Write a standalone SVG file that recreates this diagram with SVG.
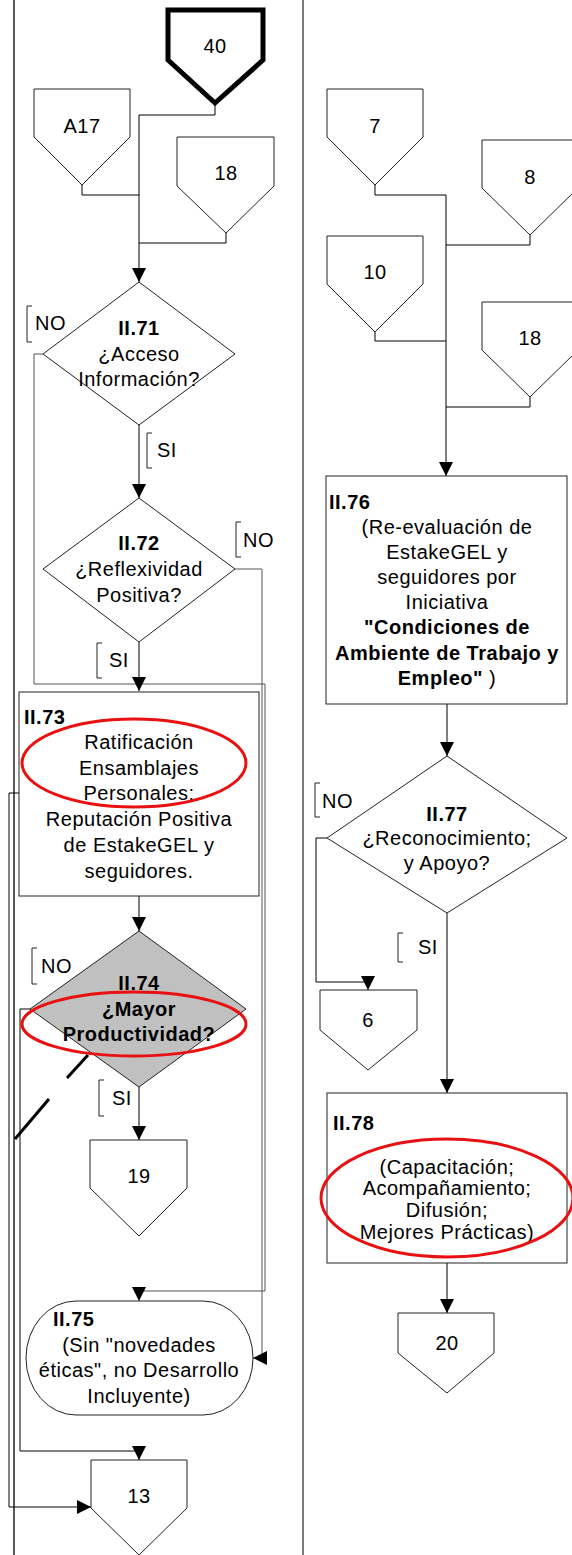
<svg xmlns="http://www.w3.org/2000/svg" width="572" height="1555" viewBox="0 0 572 1555">
<style>
.t{font-family:"Liberation Sans",Arial,sans-serif;font-size:20px;fill:#000;letter-spacing:0.5px}
.c{text-anchor:middle}
.b{font-weight:bold}
.sh{fill:#fff;stroke:#222;stroke-width:1}
.gr{fill:#c0c0c0;stroke:#222;stroke-width:1}
.ln{fill:none;stroke:#000;stroke-width:1}
.lg{fill:none;stroke:#555;stroke-width:1}
.red{fill:none;stroke:#e81010;stroke-width:3}
.br{fill:none;stroke:#222;stroke-width:1}
</style>
<defs>
<marker id="ah" viewBox="0 0 14 14" refX="14" refY="7" markerWidth="14" markerHeight="14" markerUnits="userSpaceOnUse" orient="auto">
<path d="M0,0 L14,7 L0,14 z" fill="#000"/>
</marker>
</defs>
<rect x="0" y="0" width="572" height="1555" fill="#fff"/>
<g id="lanes">
<line x1="14" y1="0" x2="14" y2="1555" stroke="#222" stroke-width="1.5"/>
<line x1="303" y1="0" x2="303" y2="1555" stroke="#222" stroke-width="1.2"/>
</g>
<g id="connectors">
<path class="ln" d="M215,105 V115 H139 V282" marker-end="url(#ah)"/>
<path class="ln" d="M82,185 V195 H139"/>
<path class="ln" d="M226,233 V243 H139"/>
<path class="ln" d="M139,425 V498" marker-end="url(#ah)"/>
<path class="lg" d="M43,354 H34 V684 H265 V1291 H139 V1301" marker-end="url(#ah)"/>
<path class="ln" d="M139,642 V691" marker-end="url(#ah)"/>
<path class="lg" d="M235,569 H262 V1358 H253" marker-end="url(#ah)"/>
<path class="ln" d="M139,896 V931" marker-end="url(#ah)"/>
<path class="ln" d="M19,793 H9 V1507 H91" marker-end="url(#ah)"/>
<path class="ln" d="M139,1087 V1140" marker-end="url(#ah)"/>
<path class="ln" d="M30,1009 H20 V1451 H139 V1460" marker-end="url(#ah)"/>
<line x1="88" y1="1055" x2="67" y2="1078" stroke="#000" stroke-width="3"/>
<line x1="49" y1="1099" x2="15" y2="1139" stroke="#000" stroke-width="3"/>
<path class="ln" d="M375,185 V195 H446 V476" marker-end="url(#ah)"/>
<path class="ln" d="M530,235 V245 H446"/>
<path class="ln" d="M375,332 V341 H446"/>
<path class="ln" d="M530,397 V407 H446"/>
<path class="ln" d="M447,704 V756" marker-end="url(#ah)"/>
<path class="ln" d="M327,838 H316 V982 H368 V990" marker-end="url(#ah)"/>
<path class="ln" d="M447,913 V1093" marker-end="url(#ah)"/>
<path class="ln" d="M447,1263 V1313" marker-end="url(#ah)"/>
</g>
<g id="labels">
<path class="br" d="M32,306 H27 V342 H32"/><text class="t" x="35" y="330">NO</text>
<path class="br" d="M152,433 H147 V468 H152"/><text class="t" x="157" y="457">SI</text>
<path class="br" d="M241,522 H236 V557 H241"/><text class="t" x="243" y="547">NO</text>
<path class="br" d="M102,643 H97 V678 H102"/><text class="t" x="109" y="667">SI</text>
<path class="br" d="M37,948 H32 V984 H37"/><text class="t" x="41" y="973">NO</text>
<path class="br" d="M104,1080 H99 V1116 H104"/><text class="t" x="112" y="1105">SI</text>
<path class="br" d="M320,783 H315 V817 H320"/><text class="t" x="322" y="808">NO</text>
<path class="br" d="M403,933 H398 V962 H403"/><text class="t" x="418" y="954">SI</text>
</g>
<g id="n40">
<polygon points="168,10 263,10 263,60 215,103 168,60" fill="#fff" stroke="#000" stroke-width="5"/>
<text class="t c" x="215" y="53">40</text>
</g>
<g id="nA17">
<polygon class="sh" points="34,89 130,89 130,137 82,185 34,137"/>
<text class="t c" x="82" y="133">A17</text>
</g>
<g id="n18a">
<polygon class="sh" points="177,137 274,137 274,186 226,233 177,186"/>
<text class="t c" x="226" y="180">18</text>
</g>
<g id="n71">
<polygon class="sh" points="139,282 235,354 139,425 43,354"/>
<text class="t c b" x="139" y="335">II.71</text>
<text class="t c" x="139" y="361">¿Acceso</text>
<text class="t c" x="139" y="386">Información?</text>
</g>
<g id="n72">
<polygon class="sh" points="139,498 235,569 139,642 43,569"/>
<text class="t c b" x="139" y="550">II.72</text>
<text class="t c" x="139" y="576">¿Reflexividad</text>
<text class="t c" x="139" y="602">Positiva?</text>
</g>
<g id="n73">
<rect class="sh" x="19" y="692" width="240" height="204"/>
<text class="t b" x="24" y="724">II.73</text>
<text class="t c" x="139" y="749">Ratificación</text>
<text class="t c" x="139" y="775">Ensamblajes</text>
<text class="t c" x="139" y="800">Personales:</text>
<text class="t c" x="139" y="826">Reputación Positiva</text>
<text class="t c" x="139" y="852">de EstakeGEL y</text>
<text class="t c" x="139" y="878">seguidores.</text>
<ellipse class="red" cx="134" cy="763" rx="112" ry="44"/>
</g>
<g id="n74">
<polygon class="gr" points="139,931 246,1009 139,1087 30,1009"/>
<text class="t c b" x="139" y="990">II.74</text>
<text class="t c b" x="139" y="1016">¿Mayor</text>
<text class="t c b" x="139" y="1041">Productividad?</text>
<ellipse class="red" cx="134" cy="1024" rx="112" ry="32"/>
</g>
<g id="n19">
<polygon class="sh" points="90,1140 187,1140 187,1188 139,1236 90,1188"/>
<text class="t c" x="139" y="1183">19</text>
</g>
<g id="n75">
<rect class="sh" x="26" y="1301" width="227" height="114" rx="50" ry="57"/>
<text class="t b" x="53" y="1326">II.75</text>
<text class="t c" x="139" y="1352">(Sin "novedades</text>
<text class="t c" x="139" y="1377">éticas", no Desarrollo</text>
<text class="t c" x="139" y="1403">Incluyente)</text>
</g>
<g id="n13">
<polygon class="sh" points="91,1460 187,1460 187,1508 139,1555 91,1508"/>
<text class="t c" x="139" y="1503">13</text>
</g>
<g id="n7">
<polygon class="sh" points="327,89 423,89 423,137 375,185 327,137"/>
<text class="t c" x="375" y="133">7</text>
</g>
<g id="n8">
<polygon class="sh" points="482,140 578,140 578,188 530,235 482,188"/>
<text class="t c" x="530" y="184">8</text>
</g>
<g id="n10">
<polygon class="sh" points="327,236 423,236 423,284 375,332 327,284"/>
<text class="t c" x="375" y="279">10</text>
</g>
<g id="n18b">
<polygon class="sh" points="482,302 578,302 578,350 530,397 482,350"/>
<text class="t c" x="530" y="345">18</text>
</g>
<g id="n76">
<rect class="sh" x="326" y="476" width="241" height="228"/>
<text class="t b" x="329" y="509">II.76</text>
<text class="t c" x="447" y="534">(Re-evaluación de</text>
<text class="t c" x="447" y="559">EstakeGEL y</text>
<text class="t c" x="447" y="584">seguidores por</text>
<text class="t c" x="447" y="609">Iniciativa</text>
<text class="t c b" x="447" y="634">"Condiciones de</text>
<text class="t c b" x="447" y="660">Ambiente de Trabajo y</text>
<text class="t c" x="447" y="685"><tspan class="b">Empleo"</tspan> )</text>
</g>
<g id="n77">
<polygon class="sh" points="447,756 567,838 447,913 327,838"/>
<text class="t c b" x="447" y="821">II.77</text>
<text class="t c" x="447" y="845">¿Reconocimiento;</text>
<text class="t c" x="447" y="870">y Apoyo?</text>
</g>
<g id="n6">
<polygon class="sh" points="320,990 417,990 417,1030 368,1070 320,1030"/>
<text class="t c" x="368" y="1027">6</text>
</g>
<g id="n78">
<rect class="sh" x="327" y="1093" width="240" height="170"/>
<text class="t b" x="333" y="1130">II.78</text>
<text class="t c" x="447" y="1174">(Capacitación;</text>
<text class="t c" x="447" y="1195">Acompañamiento;</text>
<text class="t c" x="447" y="1217">Difusión;</text>
<text class="t c" x="447" y="1239">Mejores Prácticas)</text>
<ellipse class="red" cx="447" cy="1198" rx="126" ry="59"/>
</g>
<g id="n20">
<polygon class="sh" points="398,1313 494,1313 494,1353 447,1393 398,1353"/>
<text class="t c" x="447" y="1350">20</text>
</g>
</svg>
